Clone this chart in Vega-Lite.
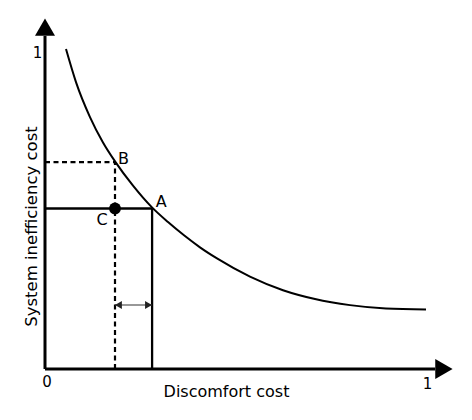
{
  "$schema": "https://vega.github.io/schema/vega-lite/v6.json",
  "width": 408,
  "height": 351,
  "autosize": "none",
  "padding": {"left": 45, "top": 18, "right": 19, "bottom": 51},
  "background": "white",
  "config": {"view": {"stroke": null}, "font": "DejaVu Sans"},
  "datasets": {
    "curve": [
      {"x": 0.0549, "y": 1.0127},
      {"x": 0.081, "y": 0.9082},
      {"x": 0.1176, "y": 0.7975},
      {"x": 0.1516, "y": 0.7171},
      {"x": 0.183, "y": 0.6573},
      {"x": 0.2301, "y": 0.5804},
      {"x": 0.2797, "y": 0.5115},
      {"x": 0.3216, "y": 0.4651},
      {"x": 0.3634, "y": 0.4231},
      {"x": 0.4052, "y": 0.3851},
      {"x": 0.4497, "y": 0.35},
      {"x": 0.5359, "y": 0.2924},
      {"x": 0.6222, "y": 0.2494},
      {"x": 0.7059, "y": 0.2215},
      {"x": 0.7974, "y": 0.2022},
      {"x": 0.8915, "y": 0.1915},
      {"x": 0.9961, "y": 0.1883}
    ],
    "axes": [
      {"x": 0, "y": 0, "x2": 0, "y2": 1.054},
      {"x": 0, "y": 0, "x2": 1.02, "y2": 0}
    ],
    "solidGuides": [
      {"x": 0, "y": 0.508, "x2": 0.28, "y2": 0.508},
      {"x": 0.28, "y": 0, "x2": 0.28, "y2": 0.508}
    ],
    "dashedGuides": [
      {"x": 0, "y": 0.655, "x2": 0.183, "y2": 0.655},
      {"x": 0.183, "y": 0, "x2": 0.183, "y2": 0.655}
    ],
    "shift": [
      {"x": 0.183, "y": 0.2025, "x2": 0.28, "y2": 0.2025}
    ],
    "shiftHeads": [
      {"x": 0.192, "y": 0.2025, "head": "left"},
      {"x": 0.2706, "y": 0.2025, "head": "right"}
    ],
    "axisHeads": [
      {"x": 0, "y": 1.082, "head": "up"},
      {"x": 1.043, "y": 0, "head": "right"}
    ],
    "pointC": [
      {"x": 0.183, "y": 0.508}
    ],
    "letters": [
      {"x": 0.205, "y": 0.649, "label": "B"},
      {"x": 0.304, "y": 0.513, "label": "A"},
      {"x": 0.149, "y": 0.456, "label": "C"}
    ],
    "ticks": [
      {"x": 0.005, "y": -0.057, "label": "0"},
      {"x": 1.0, "y": -0.063, "label": "1"},
      {"x": -0.0196, "y": 0.984, "label": "1"}
    ]
  },
  "layer": [
    {
      "data": {"name": "axes"},
      "mark": {"type": "rule", "strokeWidth": 3, "color": "black"},
      "encoding": {
        "x": {
          "field": "x", "type": "quantitative",
          "scale": {"domain": [0, 1.0667], "nice": false, "zero": false},
          "axis": {
            "title": "Discomfort cost",
            "labels": false, "ticks": false, "domain": false, "grid": false,
            "titleFont": "DejaVu Sans", "titleFontSize": 16, "titleFontWeight": "normal",
            "titleColor": "black", "titleX": 181, "titleY": 27,
            "titleBaseline": "alphabetic", "titleAlign": "center"
          }
        },
        "y": {
          "field": "y", "type": "quantitative",
          "scale": {"domain": [0, 1.111], "nice": false, "zero": false},
          "axis": {
            "title": "System inefficiency cost",
            "labels": false, "ticks": false, "domain": false, "grid": false,
            "titleFont": "DejaVu Sans", "titleFontSize": 16.5, "titleFontWeight": "normal",
            "titleColor": "black", "titleAngle": 270, "titleX": -8.5, "titleY": 208,
            "titleBaseline": "alphabetic", "titleAlign": "center"
          }
        },
        "x2": {"field": "x2"},
        "y2": {"field": "y2"}
      }
    },
    {
      "data": {"name": "axisHeads"},
      "mark": {"type": "point", "filled": true, "size": 400, "color": "black", "opacity": 1},
      "encoding": {
        "x": {"field": "x", "type": "quantitative"},
        "y": {"field": "y", "type": "quantitative"},
        "shape": {
          "field": "head", "type": "nominal",
          "scale": {"domain": ["up", "right", "left"], "range": ["triangle-up", "triangle-right", "triangle-left"]},
          "legend": null
        }
      }
    },
    {
      "data": {"name": "curve"},
      "mark": {"type": "line", "interpolate": "monotone", "strokeWidth": 2, "color": "black"},
      "encoding": {
        "x": {"field": "x", "type": "quantitative"},
        "y": {"field": "y", "type": "quantitative"}
      }
    },
    {
      "data": {"name": "solidGuides"},
      "mark": {"type": "rule", "strokeWidth": 2.3, "color": "black"},
      "encoding": {
        "x": {"field": "x", "type": "quantitative"},
        "y": {"field": "y", "type": "quantitative"},
        "x2": {"field": "x2"},
        "y2": {"field": "y2"}
      }
    },
    {
      "data": {"name": "dashedGuides"},
      "mark": {"type": "rule", "strokeWidth": 2.2, "color": "black", "strokeDash": [5, 3.5]},
      "encoding": {
        "x": {"field": "x", "type": "quantitative"},
        "y": {"field": "y", "type": "quantitative"},
        "x2": {"field": "x2"},
        "y2": {"field": "y2"}
      }
    },
    {
      "data": {"name": "shift"},
      "mark": {"type": "rule", "strokeWidth": 1.2, "color": "#333333"},
      "encoding": {
        "x": {"field": "x", "type": "quantitative"},
        "y": {"field": "y", "type": "quantitative"},
        "x2": {"field": "x2"},
        "y2": {"field": "y2"}
      }
    },
    {
      "data": {"name": "shiftHeads"},
      "mark": {"type": "point", "filled": true, "size": 64, "color": "#222222", "opacity": 1},
      "encoding": {
        "x": {"field": "x", "type": "quantitative"},
        "y": {"field": "y", "type": "quantitative"},
        "shape": {
          "field": "head", "type": "nominal",
          "scale": {"domain": ["up", "right", "left"], "range": ["triangle-up", "triangle-right", "triangle-left"]},
          "legend": null
        }
      }
    },
    {
      "data": {"name": "pointC"},
      "mark": {"type": "point", "filled": true, "shape": "circle", "size": 140, "color": "black", "opacity": 1},
      "encoding": {
        "x": {"field": "x", "type": "quantitative"},
        "y": {"field": "y", "type": "quantitative"}
      }
    },
    {
      "data": {"name": "letters"},
      "mark": {"type": "text", "font": "DejaVu Sans", "fontSize": 16, "align": "center", "baseline": "alphabetic", "color": "black"},
      "encoding": {
        "x": {"field": "x", "type": "quantitative"},
        "y": {"field": "y", "type": "quantitative"},
        "text": {"field": "label"}
      }
    },
    {
      "data": {"name": "ticks"},
      "mark": {"type": "text", "font": "DejaVu Sans", "fontSize": 15, "align": "center", "baseline": "alphabetic", "color": "black"},
      "encoding": {
        "x": {"field": "x", "type": "quantitative"},
        "y": {"field": "y", "type": "quantitative"},
        "text": {"field": "label"}
      }
    }
  ]
}
